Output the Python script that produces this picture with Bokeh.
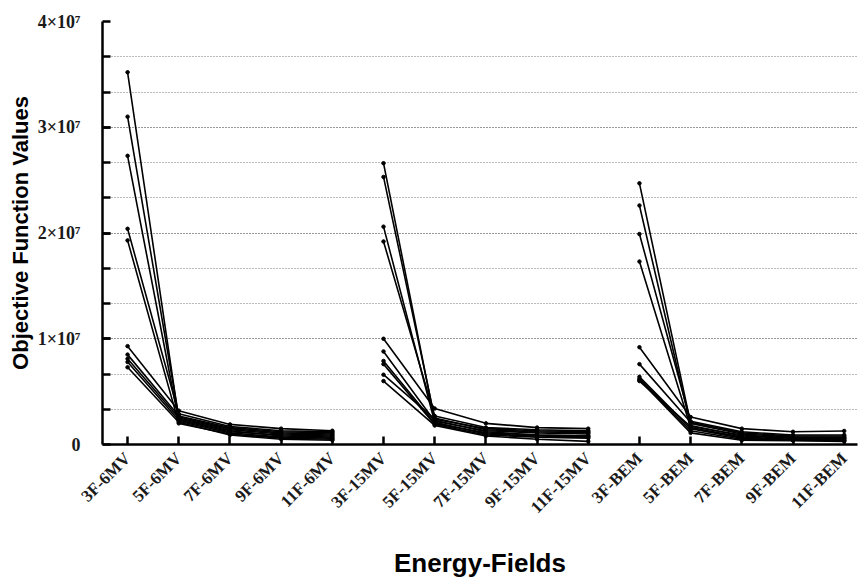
from bokeh.plotting import figure
from bokeh.models import Range1d, FixedTicker, ColumnDataSource
from bokeh.embed import file_html
from bokeh.resources import INLINE

categories = ["3F-6MV", "5F-6MV", "7F-6MV", "9F-6MV", "11F-6MV",
              "3F-15MV", "5F-15MV", "7F-15MV", "9F-15MV", "11F-15MV",
              "3F-BEM", "5F-BEM", "7F-BEM", "9F-BEM", "11F-BEM"]

# objective function values (x1e6), one list per field count, 10 cases each
mv6_3f = [35.2, 31.0, 27.3, 20.4, 19.3, 9.3, 8.5, 8.1, 7.8, 7.3]
mv6_5f = [2.4, 2.6, 2.2, 2.9, 2.0, 3.2, 2.7, 2.5, 2.3, 2.1]
mv6_7f = [1.3, 1.5, 1.1, 1.7, 1.0, 1.9, 1.6, 1.4, 1.2, 0.9]
mv6_9f = [0.8, 1.1, 0.7, 1.3, 0.6, 1.5, 1.2, 1.0, 0.9, 0.5]
mv6_11f = [0.7, 1.0, 0.6, 1.2, 0.5, 1.3, 1.1, 0.9, 0.8, 0.4]

mv15_3f = [26.6, 25.3, 20.6, 19.2, 10.0, 8.8, 7.9, 7.6, 6.6, 6.0]
mv15_5f = [2.3, 2.5, 2.1, 2.7, 3.4, 2.2, 2.0, 1.9, 2.4, 1.8]
mv15_7f = [1.2, 1.4, 1.0, 1.6, 2.0, 1.3, 1.1, 0.9, 1.5, 0.8]
mv15_9f = [0.9, 1.2, 0.8, 1.4, 1.6, 1.1, 0.9, 0.7, 1.3, 0.5]
mv15_11f = [0.8, 1.1, 0.7, 1.3, 1.5, 1.0, 0.8, 0.6, 1.2, 0.3]

bem_3f = [24.7, 22.6, 19.9, 17.3, 9.2, 7.6, 6.4, 6.2, 6.1, 6.0]
bem_5f = [2.0, 1.8, 2.2, 1.6, 2.6, 2.1, 1.5, 1.3, 1.1, 1.7]
bem_7f = [1.0, 0.8, 1.2, 0.7, 1.5, 1.1, 0.6, 0.5, 0.4, 0.9]
bem_9f = [0.7, 0.6, 0.9, 0.5, 1.2, 0.8, 0.45, 0.4, 0.37, 0.6]
bem_11f = [0.7, 0.6, 0.9, 0.5, 1.28, 0.8, 0.4, 0.35, 0.3, 0.6]

groups = [
    [mv6_3f, mv6_5f, mv6_7f, mv6_9f, mv6_11f],
    [mv15_3f, mv15_5f, mv15_7f, mv15_9f, mv15_11f],
    [bem_3f, bem_5f, bem_7f, bem_9f, bem_11f],
]

y_ticks = [0, 1e7, 2e7, 3e7, 4e7]
y_labels = ["0", "1×10⁷", "2×10⁷", "3×10⁷", "4×10⁷"]

p = figure(width=858, height=580, output_backend="svg", toolbar_location=None,
           x_range=Range1d(-0.49, 14.26), y_range=Range1d(0, 4e7),
           min_border_left=102, min_border_top=21, min_border_bottom=132,
           min_border_right=1)
p.outline_line_color = None

xs_all, ys_all, px, py = [], [], [], []
for gi, g in enumerate(groups):
    n = len(g[0])
    for k in range(n):
        xs = [gi * 5 + j for j in range(5)]
        ys = [g[j][k] * 1e6 for j in range(5)]
        xs_all.append(xs)
        ys_all.append(ys)
        px.extend(xs)
        py.extend(ys)

p.multi_line(xs="xs", ys="ys", source=ColumnDataSource(dict(xs=xs_all, ys=ys_all)),
             line_color="black", line_width=1.6)
p.scatter(px, py, size=3.5, color="black")

minor = [i * 1e7 / 3 for i in range(1, 12)]
p.yaxis.ticker = FixedTicker(ticks=y_ticks, minor_ticks=minor)
p.yaxis.major_label_overrides = {float(t): l for t, l in zip(y_ticks, y_labels)}
p.xaxis.ticker = FixedTicker(ticks=list(range(len(categories))))
p.xaxis.major_label_overrides = {i: c for i, c in enumerate(categories)}
p.xaxis.major_label_orientation = 0.785398

for ax in (p.xaxis, p.yaxis):
    ax.axis_line_width = 2.5
    ax.axis_line_color = "black"
    ax.major_tick_in = 8
    ax.major_tick_out = 0
    ax.major_tick_line_width = 2.5
    ax.minor_tick_in = 8
    ax.minor_tick_out = 0
    ax.minor_tick_line_width = 2.5
    ax.major_label_text_font = "Liberation Serif"
    ax.major_label_text_font_style = "bold"
    ax.major_label_text_color = "#1a1a1a"
    ax.axis_label_text_font = "Liberation Sans"
    ax.axis_label_text_font_style = "bold"
    ax.axis_label_text_color = "black"

p.yaxis.major_label_text_font_size = "18px"
p.xaxis.major_label_text_font_size = "17px"
p.yaxis.major_label_standoff = 22
p.xaxis.major_label_standoff = 11
p.yaxis.axis_label = "Objective Function Values"
p.yaxis.axis_label_text_font_size = "22px"
p.yaxis.axis_label_standoff = 2
p.xaxis.axis_label = "Energy-Fields"
p.xaxis.axis_label_text_font_size = "26px"
p.xaxis.axis_label_standoff = 21

p.xgrid.grid_line_color = None
p.ygrid.grid_line_color = "#777777"
p.ygrid.grid_line_dash = "1 2"
p.ygrid.minor_grid_line_color = "#777777"
p.ygrid.minor_grid_line_dash = "1 2"

open("out.html", "w").write(file_html(p, INLINE))
